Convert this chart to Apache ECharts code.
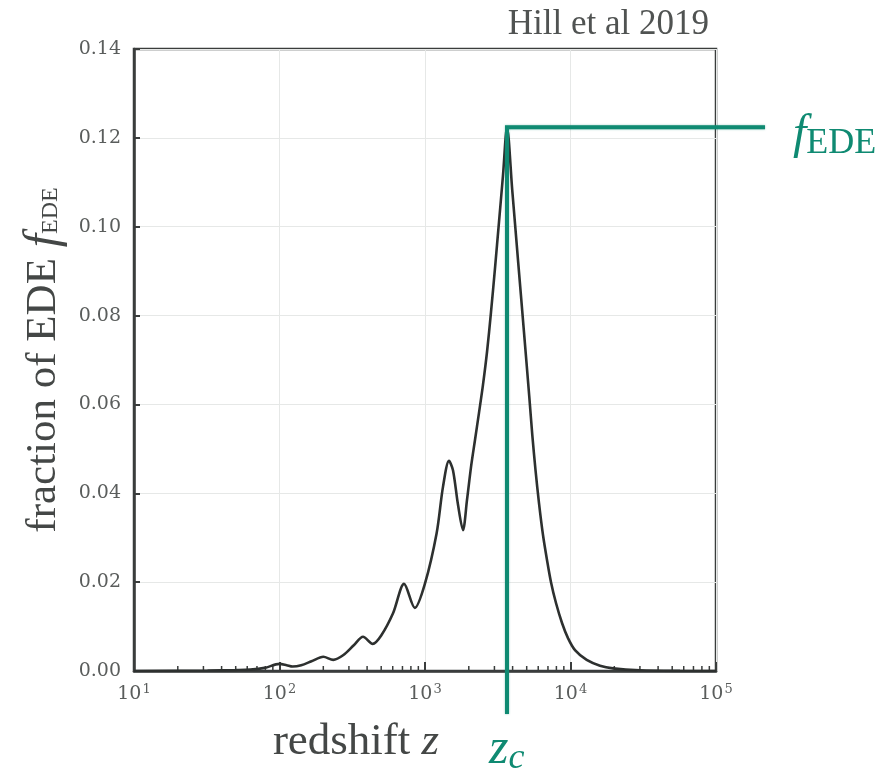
<!DOCTYPE html>
<html>
<head>
<meta charset="utf-8">
<script src="https://cdn.jsdelivr.net/npm/echarts@6/dist/echarts.min.js"></script>
<style>
  html, body { margin: 0; padding: 0; background: #ffffff; }
  #chart { width: 892px; height: 768px; }
</style>
</head>
<body>
<div id="chart"></div>
<script>
// Early dark energy fraction versus redshift
const redshift = [10, 32, 50, 63, 79, 100, 112, 123, 141, 166, 200, 234, 275, 324, 375, 437, 500, 603, 718, 851,
  1000, 1202, 1330, 1462, 1557, 1686, 1824,
  1944, 2071, 2206, 2350, 2503, 2668, 2842, 3028, 3226, 3437, 3661,
  3976, 4357, 4775, 5210, 5464, 5748, 6074, 6471, 6895, 7345, 7949, 8744, 9612, 10738, 12920, 15950, 19600,
  30050, 56570, 100000];
const fraction = [0.0000, 0.0001, 0.0002, 0.0003, 0.0007, 0.0016, 0.0013, 0.0010, 0.0013, 0.0022, 0.0032, 0.0025,
  0.0036, 0.0058, 0.0077, 0.0061, 0.0080, 0.0130, 0.0196, 0.0142,
  0.0197, 0.0310, 0.0415, 0.0473, 0.0452, 0.0374, 0.0317,
  0.0385, 0.0459, 0.0520, 0.0581, 0.0644, 0.0718, 0.0808, 0.0907, 0.1011, 0.1116, 0.1224,
  0.1083, 0.0925, 0.0768, 0.0617, 0.0531, 0.0452, 0.0378, 0.0306, 0.0250, 0.0200, 0.0153, 0.0108, 0.0074, 0.0047,
  0.0025, 0.0012, 0.0006, 0.00016, 0.00002, 0.0000];

// Critical redshift and the peak fraction reached there
const zCritical = 3661;
const fEDE = 0.1224;

const decadeTicks = [10, 100, 1000, 10000, 100000];
const yTicks = [0, 0.02, 0.04, 0.06, 0.08, 0.10, 0.12, 0.14];

// minor ticks at 2..9 times each decade
const minorTicks = [];
for (let d = 10; d < 100000; d *= 10) {
  for (let k = 2; k <= 9; k++) minorTicks.push(d * k);
}

const serif = '"Liberation Serif", "DejaVu Serif", serif';
const tickFont = '"DejaVu Serif", "Liberation Serif", serif';
const ink = '#3a3d3c';
const labelInk = '#5a5d5c';
const titleInk = '#444746';
const green = '#0f8a72';

const chart = echarts.init(document.getElementById('chart'), null, { renderer: 'canvas' });

chart.setOption({
  backgroundColor: '#ffffff',
  animation: false,
  title: {
    text: 'Hill et al 2019',
    right: 178,
    top: 2,
    textStyle: { fontFamily: serif, fontSize: 35, fontWeight: 'normal', color: '#505352' }
  },
  grid: {
    left: 134, right: 176, top: 49, bottom: 97,
    outerBoundsMode: 'none',
    containLabel: false,
    show: true, borderColor: ink, borderWidth: 2.5, backgroundColor: 'transparent'
  },
  graphic: [
    {
      type: 'text',
      x: 44, y: 360,
      rotation: Math.PI / 2,
      style: {
        text: '{n|fraction of EDE }{i|f}{s|EDE}',
        align: 'center',
        verticalAlign: 'middle',
        rich: {
          n: { fontFamily: serif, fontSize: 43, fill: titleInk, color: titleInk },
          i: { fontFamily: serif, fontSize: 48, fontStyle: 'italic', fill: titleInk, color: titleInk },
          s: { fontFamily: serif, fontSize: 24, fill: titleInk, color: titleInk, padding: [14, 0, 0, 0] }
        }
      }
    },
    {
      type: 'text',
      x: 356, y: 742,
      style: {
        text: '{n|redshift }{i|z}',
        align: 'center',
        verticalAlign: 'middle',
        rich: {
          n: { fontFamily: serif, fontSize: 45, fill: titleInk, color: titleInk },
          i: { fontFamily: serif, fontSize: 45, fontStyle: 'italic', fill: titleInk, color: titleInk }
        }
      }
    }
  ],
  xAxis: {
    type: 'log',
    logBase: 10,
    min: 10,
    max: 100000,
    axisLine: { show: true, lineStyle: { color: ink, width: 2.5 } },
    axisTick: { show: true, inside: true, length: 9, lineStyle: { color: ink, width: 2 } },
    splitLine: { show: true, lineStyle: { color: '#e6e8e7', width: 1 } },
    axisLabel: {
      margin: 12,
      formatter: function (v) {
        return '{b|10}{s|' + Math.round(Math.log10(v)) + '}';
      },
      rich: {
        b: { fontFamily: tickFont, fontSize: 19, color: labelInk },
        s: { fontFamily: tickFont, fontSize: 13, color: labelInk, padding: [0, 0, 10, 1] }
      }
    }
  },
  yAxis: {
    type: 'value',
    min: 0,
    max: 0.14,
    interval: 0.02,
    axisLine: { show: true, lineStyle: { color: ink, width: 2.5 } },
    axisTick: { show: true, inside: true, length: 6, lineStyle: { color: ink, width: 2 } },
    splitLine: { show: true, lineStyle: { color: '#e6e8e7', width: 1 } },
    axisLabel: {
      margin: 13,
      fontFamily: tickFont,
      fontSize: 19,
      color: labelInk,
      formatter: function (v) { return v.toFixed(2); }
    }
  },
  series: [
    {
      name: 'minor ticks',
      type: 'custom',
      silent: true,
      z: 3,
      data: minorTicks.map(function (v) { return [v, 0]; }),
      renderItem: function (params, api) {
        const p = api.coord([api.value(0), 0]);
        return {
          type: 'line',
          shape: { x1: p[0], y1: p[1], x2: p[0], y2: p[1] - 5 },
          style: { stroke: ink, lineWidth: 1.5 }
        };
      }
    },
    {
      name: 'f_EDE',
      type: 'line',
      data: redshift.map(function (z, i) { return [z, fraction[i]]; }),
      smooth: 0.3,
      showSymbol: false,
      lineStyle: { color: '#2d302f', width: 2.6 },
      z: 4
    },
    {
      // guide lines marking the peak: down past the redshift axis and out past the frame
      name: 'guides',
      type: 'custom',
      clip: false,
      silent: true,
      z: 5,
      data: [[zCritical, fEDE]],
      renderItem: function (params, api) {
        const peak = api.coord([api.value(0), api.value(1)]);
        const base = api.coord([api.value(0), 0]);
        const edge = api.coord([100000, api.value(1)]);
        const bottomY = base[1] + 43;
        const rightX = edge[0] + 49;
        const lineStyle = {
          stroke: green, lineWidth: 4, fill: null,
          shadowColor: 'rgba(15,138,114,0.5)', shadowBlur: 2
        };
        return {
          type: 'group',
          children: [
            {
              type: 'polyline',
              shape: { points: [[peak[0], bottomY], [peak[0], peak[1]], [rightX, peak[1]]] },
              style: lineStyle
            },
            {
              type: 'text',
              x: peak[0] - 18, y: bottomY + 9,
              style: {
                text: '{i|z}{s|c}',
                align: 'left',
                verticalAlign: 'top',
                rich: {
                  i: { fontFamily: serif, fontSize: 50, fontStyle: 'italic', fill: green, color: green },
                  s: { fontFamily: serif, fontSize: 36, fontStyle: 'italic', fill: green, color: green, padding: [18, 0, 0, 0] }
                }
              }
            },
            {
              type: 'text',
              x: rightX + 28, y: peak[1] + 8,
              style: {
                text: '{i|f}{s|EDE}',
                align: 'left',
                verticalAlign: 'middle',
                rich: {
                  i: { fontFamily: serif, fontSize: 48, fontStyle: 'italic', fill: green, color: green },
                  s: { fontFamily: serif, fontSize: 36, fill: green, color: green, padding: [16, 0, 0, 0] }
                }
              }
            }
          ]
        };
      }
    }
  ]
});
</script>
</body>
</html>
